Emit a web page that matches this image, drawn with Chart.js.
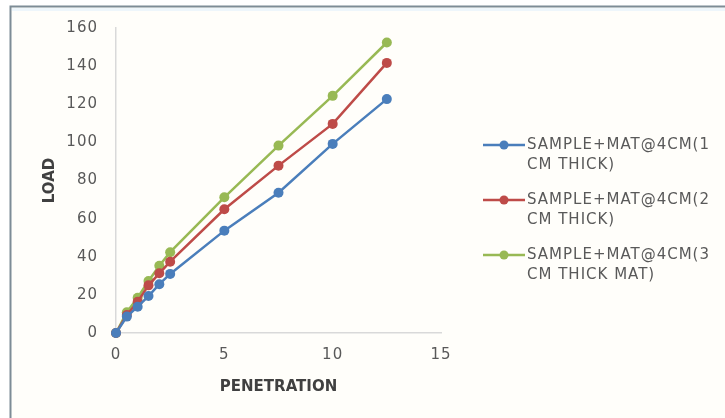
<!DOCTYPE html>
<html>
<head>
<meta charset="utf-8">
<script src="https://cdn.jsdelivr.net/npm/chart.js@4/dist/chart.umd.min.js"></script>
<style>
  html, body { margin: 0; padding: 0; background: #ffffff; }
  #wrap { width: 725px; height: 418px; position: relative; }
</style>
</head>
<body>
<div id="wrap"><canvas id="c" width="725" height="418"></canvas></div>
<script>
// Penetration readings (mm) and loads for the three mat thicknesses
const penetration = [0, 0.5, 1, 1.5, 2, 2.5, 5, 7.5, 10, 12.5];
const load1cm = [0, 8.6, 13.8, 19.4, 25.6, 31.0, 53.7, 73.6, 99.2, 122.7];
const load2cm = [0, 9.4, 16.4, 25.0, 31.3, 37.4, 64.9, 87.8, 109.7, 141.7];
const load3cm = [0, 10.9, 18.5, 27.3, 35.3, 42.4, 71.2, 98.3, 124.4, 152.4];

const seriesNames = [
  ['SAMPLE+MAT@4CM(1', 'CM THICK)'],
  ['SAMPLE+MAT@4CM(2', 'CM THICK)'],
  ['SAMPLE+MAT@4CM(3', 'CM THICK MAT)']
];
const seriesColors = ['#4A7EBB', '#BE4B48', '#98B954'];
const xTicksMax = 15;
const yTicksMax = 160;

const TEXT = '#595959';
const FONT = 'DejaVu Sans';

function pts(vals) {
  return penetration.map((x, i) => ({ x: x, y: vals[i] }));
}

function makeSet(vals, idx) {
  return {
    label: seriesNames[idx],
    data: pts(vals),
    showLine: true,
    borderColor: seriesColors[idx],
    backgroundColor: seriesColors[idx],
    borderWidth: 2.5,
    pointRadius: 5,
    pointHoverRadius: 5,
    pointBorderWidth: 0,
    clip: false,
    tension: 0
  };
}

// Page frame and background
const framePlugin = {
  id: 'frame',
  beforeDraw(chart) {
    const ctx = chart.ctx;
    ctx.save();
    ctx.fillStyle = '#ffffff';
    ctx.fillRect(0, 0, chart.width, chart.height);
    ctx.fillStyle = '#fffefa';
    ctx.fillRect(11, 7, chart.width - 11, chart.height - 7);
    ctx.fillStyle = '#eef6fb';
    ctx.fillRect(12, 8, chart.width - 12, 3);
    ctx.strokeStyle = '#7d8c96';
    ctx.lineWidth = 2;
    ctx.beginPath();
    ctx.moveTo(10.5, chart.height);
    ctx.lineTo(10.5, 6.5);
    ctx.lineTo(chart.width, 6.5);
    ctx.stroke();
    ctx.restore();
  },
  // tick labels are drawn above the datasets (ticks.z = 1); set them slightly wider
  afterDatasetsDraw(chart) {
    if ('letterSpacing' in chart.ctx) chart.ctx.letterSpacing = '1px';
  }
};

// Legend on the right: short line with a dot, two-line label
const legendPlugin = {
  id: 'sideLegend',
  afterDraw(chart) {
    const ctx = chart.ctx;
    const rows = [145, 200, 255];
    ctx.save();
    ctx.font = '15px "' + FONT + '"';
    ctx.textBaseline = 'middle';
    ctx.textAlign = 'left';
    if ('letterSpacing' in ctx) ctx.letterSpacing = '1px';
    chart.data.datasets.forEach((ds, i) => {
      const y = rows[i];
      ctx.strokeStyle = ds.borderColor;
      ctx.lineWidth = 2.5;
      ctx.beginPath();
      ctx.moveTo(483, y);
      ctx.lineTo(525, y);
      ctx.stroke();
      ctx.fillStyle = ds.backgroundColor;
      ctx.beginPath();
      ctx.arc(504, y, 4.5, 0, Math.PI * 2);
      ctx.fill();
      ctx.fillStyle = TEXT;
      ds.label.forEach((line, j) => {
        ctx.fillText(line, 527, y + j * 20);
      });
    });
    ctx.restore();
    if ('letterSpacing' in ctx) ctx.letterSpacing = '0px';
  }
};

new Chart(document.getElementById('c'), {
  type: 'scatter',
  data: {
    datasets: [makeSet(load1cm, 0), makeSet(load2cm, 1), makeSet(load3cm, 2)]
  },
  options: {
    responsive: false,
    animation: false,
    layout: { padding: { left: 35, top: 28, right: 284, bottom: 20 } },
    plugins: {
      legend: { display: false },
      tooltip: { enabled: false }
    },
    scales: {
      x: {
        type: 'linear',
        min: 0,
        max: xTicksMax,
        ticks: { stepSize: 5, padding: 13, z: 1, color: TEXT, font: { family: FONT, size: 15 } },
        grid: { display: false, drawTicks: false },
        border: { display: true, color: '#d9d9d9', width: 1.5 },
        title: {
          display: true,
          text: 'PENETRATION',
          color: '#404040',
          font: { family: FONT, size: 15, weight: 'bold' },
          padding: { top: 0, bottom: 2 }
        },
        afterFit(scale) { scale.height = 65; }
      },
      y: {
        min: 0,
        max: yTicksMax,
        ticks: { stepSize: 20, padding: 18, z: 1, color: TEXT, font: { family: FONT, size: 15 } },
        grid: { display: false, drawTicks: false },
        border: { display: true, color: '#d9d9d9', width: 1.5 },
        title: {
          display: true,
          text: 'LOAD',
          color: '#404040',
          font: { family: FONT, size: 15, weight: 'bold' },
          padding: { top: 6, bottom: 0 }
        },
        afterFit(scale) { scale.width = 81; }
      }
    }
  },
  plugins: [framePlugin, legendPlugin]
});
</script>
</body>
</html>
